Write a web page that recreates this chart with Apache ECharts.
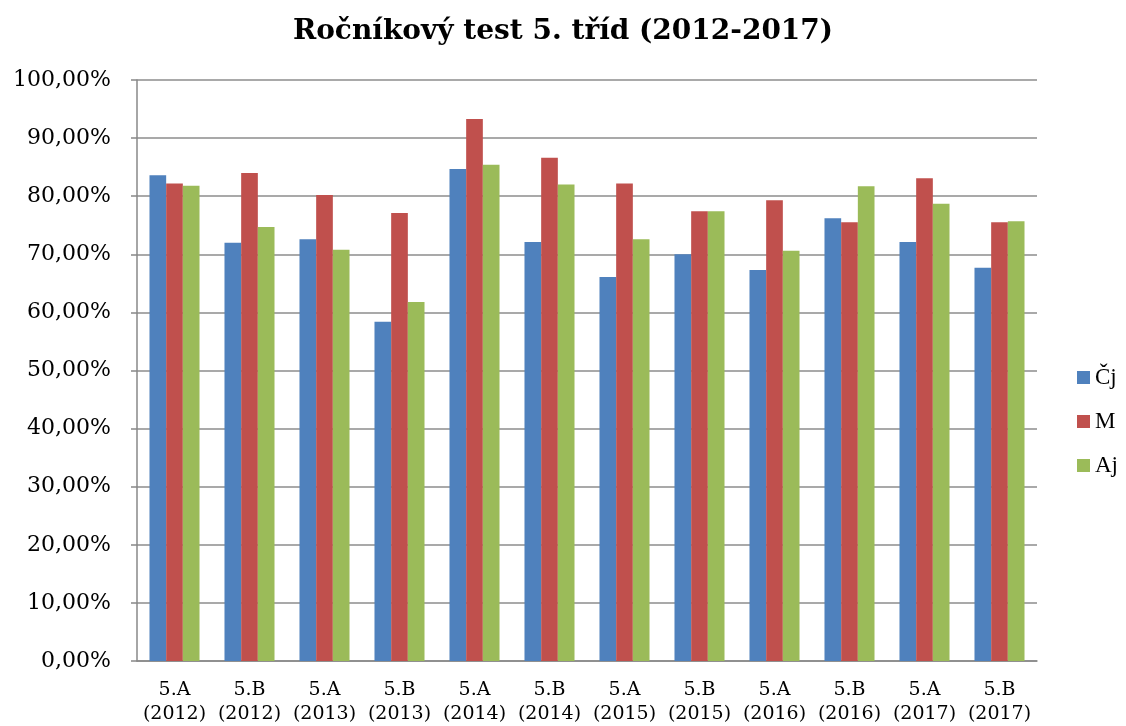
<!DOCTYPE html>
<html>
<head>
<meta charset="utf-8">
<script src="https://cdn.jsdelivr.net/npm/echarts@6/dist/echarts.min.js"></script>
<style>html,body{margin:0;padding:0;background:#fff;overflow:hidden}#c{width:1126px;height:726px}</style>
</head>
<body>
<div id="c"></div>
<script>
const categories = ["5.A\n(2012)","5.B\n(2012)","5.A\n(2013)","5.B\n(2013)","5.A\n(2014)","5.B\n(2014)","5.A\n(2015)","5.B\n(2015)","5.A\n(2016)","5.B\n(2016)","5.A\n(2017)","5.B\n(2017)"];
const seriesNames = ["Čj","M","Aj"];
const cj = [83.6,72.0,72.6,58.4,84.7,72.1,66.1,70.0,67.3,76.2,72.1,67.7];
const m  = [82.2,84.0,80.2,77.1,93.3,86.6,82.2,77.4,79.3,75.5,83.1,75.5];
const aj = [81.8,74.7,70.8,61.8,85.4,82.0,72.6,77.4,70.6,81.7,78.7,75.7];
const colors = ["#4F81BD","#C0504D","#9BBB59"];
const serif = "'DejaVu Serif', 'Liberation Serif', serif";

const chart = echarts.init(document.getElementById('c'));
const mk = (name, data, i) => ({
  name, type:'bar', data, barGap:'0%', barCategoryGap:'33.3%',
  itemStyle:{color:colors[i]}
});
chart.setOption({
  animation:false,
  title:{text:"Ročníkový test 5. tříd (2012-2017)", left:'center', top:13,
    textStyle:{fontFamily:serif, fontWeight:'bold', fontSize:28, color:'#000'}},
  legend:{orient:'vertical', left:1077, top:366, padding:0, itemWidth:13, itemHeight:13, itemGap:21,
    icon:'rect', textStyle:{fontFamily:"'Liberation Serif', serif", fontSize:23, color:'#000'},
    data:seriesNames},
  grid:{left:137, width:900, top:80, height:585},
  xAxis:{type:'category', data:categories,
    axisLine:{lineStyle:{color:'#888', width:1.5}}, axisTick:{show:false},
    axisLabel:{fontFamily:serif, fontSize:19, color:'#000', lineHeight:24, margin:17, interval:0}},
  yAxis:{type:'value', min:0, max:100, interval:10,
    axisLine:{show:true, lineStyle:{color:'#888', width:1.5}},
    axisTick:{show:true, length:6, lineStyle:{color:'#888', width:1.5}},
    splitLine:{lineStyle:{color:'#8c8c8c', width:1.5}},
    axisLabel:{fontFamily:serif, fontSize:22, color:'#000', margin:26,
      formatter:v=>v.toFixed(2).replace('.',',')+'%'}},
  series:[mk(seriesNames[0],cj,0),mk(seriesNames[1],m,1),mk(seriesNames[2],aj,2)]
});
</script>
</body>
</html>
